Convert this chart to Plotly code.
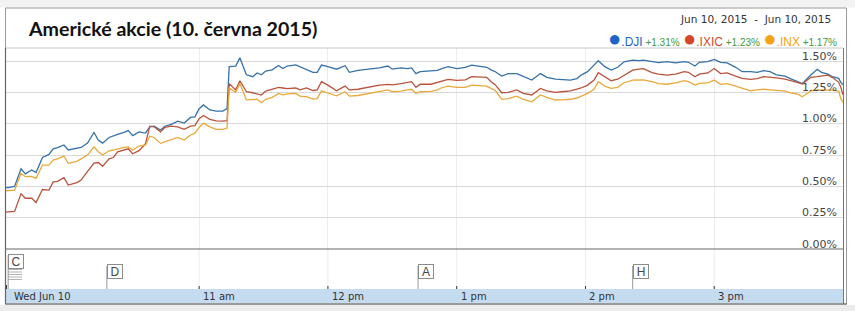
import plotly.graph_objects as go

# ---------------- data ----------------
day = "2015-06-10"
times = ["09:30","09:31","09:34","09:37","09:39","09:42","09:44","09:47","09:50","09:52",
         "09:54","09:57","09:59","10:03","10:05","10:08","10:11","10:13","10:15","10:18",
         "10:20","10:22","10:25","10:27","10:29","10:32","10:35","10:37","10:39","10:42",
         "10:44","10:47","10:50","10:53","10:56","10:58","11:00","11:02","11:05","11:08",
         "11:11","11:13","11:14","11:17","11:19","11:22","11:25","11:27","11:29","11:31",
         "11:34","11:37","11:39","11:41","11:45","11:47","11:50","11:53","11:55","11:57",
         "12:00","12:04","12:08","12:10","12:14","12:17","12:20","12:24","12:28","12:30",
         "12:34","12:37","12:39","12:41","12:43","12:48","12:51","12:53","12:56","13:00",
         "13:04","13:07","13:10","13:14","13:16","13:18","13:21","13:24","13:28","13:31",
         "13:35","13:39","13:42","13:46","13:49","13:53","13:56","13:58","14:01","14:04",
         "14:06","14:09","14:12","14:15","14:18","14:22","14:25","14:27","14:31","14:34",
         "14:38","14:42","14:46","14:48","14:51","14:53","14:57","15:00","15:03","15:06",
         "15:10","15:13","15:17","15:20","15:23","15:26","15:29","15:33","15:36","15:39",
         "15:41","15:45","15:48","15:50","15:53","15:55","15:58","15:59","16:00"]

dji = [0.49,0.49,0.50,0.64,0.60,0.63,0.61,0.73,0.755,0.80,
       0.81,0.83,0.79,0.80,0.81,0.845,0.93,0.87,0.845,0.89,
       0.905,0.915,0.93,0.945,0.905,0.935,0.925,0.975,0.98,0.95,
       0.98,0.995,1.02,1.005,1.05,1.055,1.12,1.15,1.11,1.10,
       1.10,1.12,1.455,1.46,1.525,1.39,1.375,1.405,1.39,1.42,
       1.43,1.465,1.44,1.46,1.47,1.455,1.435,1.41,1.41,1.468,
       1.455,1.435,1.463,1.41,1.425,1.43,1.436,1.445,1.46,1.435,
       1.445,1.44,1.445,1.40,1.415,1.42,1.425,1.44,1.455,1.44,
       1.45,1.468,1.46,1.45,1.43,1.415,1.38,1.40,1.40,1.375,
       1.348,1.40,1.37,1.356,1.355,1.348,1.36,1.388,1.415,1.468,
       1.503,1.455,1.428,1.45,1.494,1.508,1.503,1.508,1.495,1.487,
       1.495,1.485,1.495,1.49,1.46,1.49,1.495,1.513,1.49,1.485,
       1.45,1.415,1.415,1.41,1.423,1.415,1.39,1.38,1.356,1.335,
       1.32,1.388,1.434,1.41,1.396,1.375,1.362,1.33,1.31]

ixic = [0.295,0.295,0.30,0.44,0.405,0.405,0.37,0.475,0.47,0.535,
        0.54,0.57,0.51,0.53,0.55,0.62,0.685,0.69,0.66,0.72,
        0.73,0.775,0.79,0.80,0.76,0.785,0.84,0.98,0.975,0.935,
        0.97,0.98,0.975,0.955,0.98,0.985,1.04,1.065,1.035,1.022,
        1.02,1.025,1.32,1.27,1.343,1.255,1.247,1.24,1.229,1.26,
        1.274,1.29,1.285,1.28,1.285,1.27,1.285,1.265,1.27,1.335,
        1.308,1.263,1.30,1.27,1.275,1.285,1.295,1.308,1.314,1.31,
        1.32,1.33,1.335,1.29,1.316,1.315,1.33,1.34,1.354,1.345,
        1.35,1.375,1.375,1.37,1.335,1.31,1.247,1.25,1.269,1.242,
        1.229,1.282,1.262,1.25,1.255,1.262,1.275,1.285,1.308,1.348,
        1.407,1.375,1.343,1.355,1.388,1.428,1.436,1.44,1.407,1.396,
        1.388,1.395,1.415,1.41,1.375,1.395,1.405,1.44,1.40,1.405,
        1.38,1.362,1.354,1.36,1.375,1.372,1.365,1.355,1.343,1.327,
        1.316,1.37,1.375,1.38,1.388,1.37,1.33,1.29,1.23]

inx = [0.465,0.465,0.47,0.604,0.577,0.58,0.564,0.67,0.67,0.71,
       0.72,0.742,0.684,0.70,0.72,0.75,0.816,0.776,0.75,0.784,
       0.79,0.80,0.811,0.815,0.79,0.822,0.83,0.90,0.89,0.843,
       0.855,0.875,0.891,0.87,0.91,0.925,0.97,1.005,0.975,0.955,
       0.955,0.965,1.285,1.25,1.32,1.19,1.19,1.195,1.167,1.195,
       1.21,1.242,1.23,1.238,1.242,1.22,1.215,1.197,1.20,1.262,
       1.245,1.222,1.255,1.22,1.225,1.235,1.24,1.255,1.27,1.255,
       1.26,1.27,1.275,1.242,1.255,1.258,1.27,1.287,1.30,1.29,
       1.29,1.308,1.305,1.30,1.282,1.265,1.194,1.20,1.22,1.195,
       1.175,1.229,1.21,1.189,1.19,1.195,1.205,1.22,1.242,1.274,
       1.335,1.30,1.282,1.29,1.327,1.348,1.35,1.35,1.335,1.32,
       1.315,1.325,1.343,1.335,1.308,1.322,1.325,1.348,1.314,1.32,
       1.30,1.282,1.263,1.27,1.275,1.27,1.268,1.26,1.245,1.236,
       1.215,1.262,1.269,1.27,1.27,1.268,1.26,1.20,1.17]

series_names = [".DJI", ".IXIC", ".INX"]
series_change = ["+1.31%", "+1.23%", "+1.17%"]

y_ticks = [0.0, 0.25, 0.5, 0.75, 1.0, 1.25, 1.5]
y_ticktext = ["0.00%", "0.25%", "0.50%", "0.75%", "1.00%", "1.25%", "1.50%"]
hour_ticks = ["11:00", "12:00", "13:00", "14:00", "15:00"]
hour_labels = ["11 am", "12 pm", "1 pm", "2 pm", "3 pm"]
start_label = "Wed Jun 10"

flag_letters = ["C", "D", "A", "H"]
flag_times = ["09:31", "10:17", "12:42", "14:22"]

title_text = "Americké akcie (10. června 2015)"
range_text = "Jun 10, 2015&nbsp;&nbsp;-&nbsp;&nbsp;Jun 10, 2015"

# ---------------- styling ----------------
W, H = 855, 311
ML, MR, MT, MB = 6, 12, 48, 62
PW, PH = W - ML - MR, H - MT - MB

def px(p):
    return (p - ML) / PW

def py(p):
    return (H - MB - p) / PH

line_colors = ["#3672a8", "#b8533c", "#e9a93a"]
dot_colors = ["#1c64c8", "#d4472a", "#f5a213"]
green = "#3f9a3f"

x = [f"{day} {t}" for t in times]
fig = go.Figure()
for vals, name, col in zip([dji, ixic, inx], series_names, line_colors):
    fig.add_trace(go.Scatter(x=x, y=vals, mode="lines", name=name,
                             line=dict(color=col, width=1.3), showlegend=False,
                             hoverinfo="skip"))

shapes = []
# light strips outside the frame
shapes.append(dict(type="rect", xref="paper", yref="paper", x0=px(0), x1=px(W), y0=py(0), y1=py(7.5),
                   fillcolor="#f2f2f2", line=dict(width=0), layer="below"))
shapes.append(dict(type="rect", xref="paper", yref="paper", x0=px(0), x1=px(W), y0=py(305), y1=py(H),
                   fillcolor="#ececec", line=dict(width=0), layer="below"))
# blue time bar
shapes.append(dict(type="rect", xref="paper", yref="paper", x0=px(6), x1=px(843), y0=py(303), y1=py(289),
                   fillcolor="#c5dbf0", line=dict(width=0)))
# vertical grid in flags area + tick marks
for h in hour_ticks:
    xv = f"{day} {h}"
    shapes.append(dict(type="line", xref="x", yref="paper", x0=xv, x1=xv, y0=py(249), y1=py(289),
                       line=dict(color="#ececec", width=1)))
    shapes.append(dict(type="line", xref="x", yref="paper", x0=xv, x1=xv, y0=py(286), y1=py(289),
                       line=dict(color="#333333", width=1)))
shapes.append(dict(type="line", xref="paper", yref="paper", x0=px(6.5), x1=px(6.5), y0=py(285), y1=py(289),
                   line=dict(color="#333333", width=1)))
# plot borders
shapes.append(dict(type="line", xref="paper", yref="paper", x0=px(5), x1=px(843), y0=py(48), y1=py(48),
                   line=dict(color="#c8c8c8", width=1)))
shapes.append(dict(type="line", xref="paper", yref="paper", x0=px(5), x1=px(843.5), y0=py(249), y1=py(249),
                   line=dict(color="#666666", width=1)))
# outer frame
shapes.append(dict(type="rect", xref="paper", yref="paper", x0=px(5.5), x1=px(846.5), y0=py(304), y1=py(8),
                   line=dict(color="#9a9a9a", width=1)))
shapes.append(dict(type="line", xref="paper", yref="paper", x0=px(5.5), x1=px(5.5), y0=py(304), y1=py(48),
                   line=dict(color="#666666", width=1.2)))
shapes.append(dict(type="line", xref="paper", yref="paper", x0=px(843.5), x1=px(843.5), y0=py(304), y1=py(48),
                   line=dict(color="#777777", width=1)))
shapes.append(dict(type="line", xref="paper", yref="paper", x0=px(5), x1=px(847), y0=py(304), y1=py(304),
                   line=dict(color="#666666", width=1)))
# flag poles
for letter, t in zip(flag_letters, flag_times):
    xv = f"{day} {t}"
    top = 255 if letter == "C" else 266
    shapes.append(dict(type="line", xref="x", yref="paper", x0=xv, x1=xv, y0=py(289), y1=py(top),
                       line=dict(color="#999999", width=1)))
# stacked marks under C
for k in range(5):
    yy = 269.5 + 2.5 * k
    shapes.append(dict(type="line", xref="paper", yref="paper", x0=px(8), x1=px(22), y0=py(yy), y1=py(yy),
                       line=dict(color="#a0a0a0", width=0.8)))

annotations = []
# title
annotations.append(dict(text=f"<b>{title_text}</b>", xref="paper", yref="paper", x=px(26), y=py(28),
                        xanchor="left", yanchor="middle", showarrow=False,
                        font=dict(family="Lato", size=19.6, color="#111111")))
# date range
annotations.append(dict(text=range_text, xref="paper", yref="paper", x=px(833), y=py(19),
                        xanchor="right", yanchor="middle", showarrow=False,
                        font=dict(family="DejaVu Sans", size=10.5, color="#333333")))
# legend line
parts = []
for name, chg, dc in zip(series_names, series_change, dot_colors):
    parts.append(f'<span style="color:{dc};font-size:22px">●</span>'
                 f'<span style="color:{dc}">{name}</span>'
                 f'<span style="color:{green};font-size:10px"> {chg}</span>')
annotations.append(dict(text=" ".join(parts), xref="paper", yref="paper", x=px(839), y=py(38),
                        xanchor="right", yanchor="middle", showarrow=False,
                        font=dict(family="Liberation Sans", size=12, color="#333333")))
# y tick labels (inside, above gridlines)
for v, t in zip(y_ticks, y_ticktext):
    annotations.append(dict(text=t, xref="paper", yref="y", x=px(839), y=v, yshift=-3.5,
                            xanchor="right", yanchor="bottom", showarrow=False,
                            font=dict(family="DejaVu Sans", size=11, color="#444444")))
# x labels in blue bar
annotations.append(dict(text=start_label, xref="paper", yref="paper", x=px(12), y=py(296.5),
                        xanchor="left", yanchor="middle", showarrow=False,
                        font=dict(family="DejaVu Sans", size=10, color="#333333")))
for h, lab in zip(hour_ticks, hour_labels):
    annotations.append(dict(text=lab, xref="x", yref="paper", x=f"{day} {h}", y=py(296.5),
                            xanchor="left", yanchor="middle", xshift=2, showarrow=False,
                            font=dict(family="DejaVu Sans", size=10, color="#333333")))
# flags
for letter, t in zip(flag_letters, flag_times):
    yc = 261.5 if letter == "C" else 271.5
    annotations.append(dict(text=letter, xref="x", yref="paper", x=f"{day} {t}", y=py(yc),
                            xanchor="left", yanchor="middle", showarrow=False,
                            bgcolor="white", bordercolor="#8c8c8c", borderwidth=1, borderpad=1,
                            width=12, height=11,
                            font=dict(family="Liberation Sans", size=12, color="#444444")))

fig.update_layout(
    width=W, height=H,
    margin=dict(l=ML, r=MR, t=MT, b=MB),
    paper_bgcolor="white", plot_bgcolor="white",
    shapes=shapes, annotations=annotations,
    xaxis=dict(range=[f"{day} 09:30", f"{day} 16:00"], tickvals=[f"{day} {h}" for h in hour_ticks],
               showticklabels=False, showgrid=True, gridcolor="#ececec", gridwidth=1,
               zeroline=False, showline=False, ticks=""),
    yaxis=dict(range=[0, PH / 125.3], tickvals=y_ticks, showticklabels=False,
               showgrid=True, gridcolor="#d9d9d9", gridwidth=1,
               zeroline=False, showline=False, ticks=""),
)

fig.write_html("out.html")
